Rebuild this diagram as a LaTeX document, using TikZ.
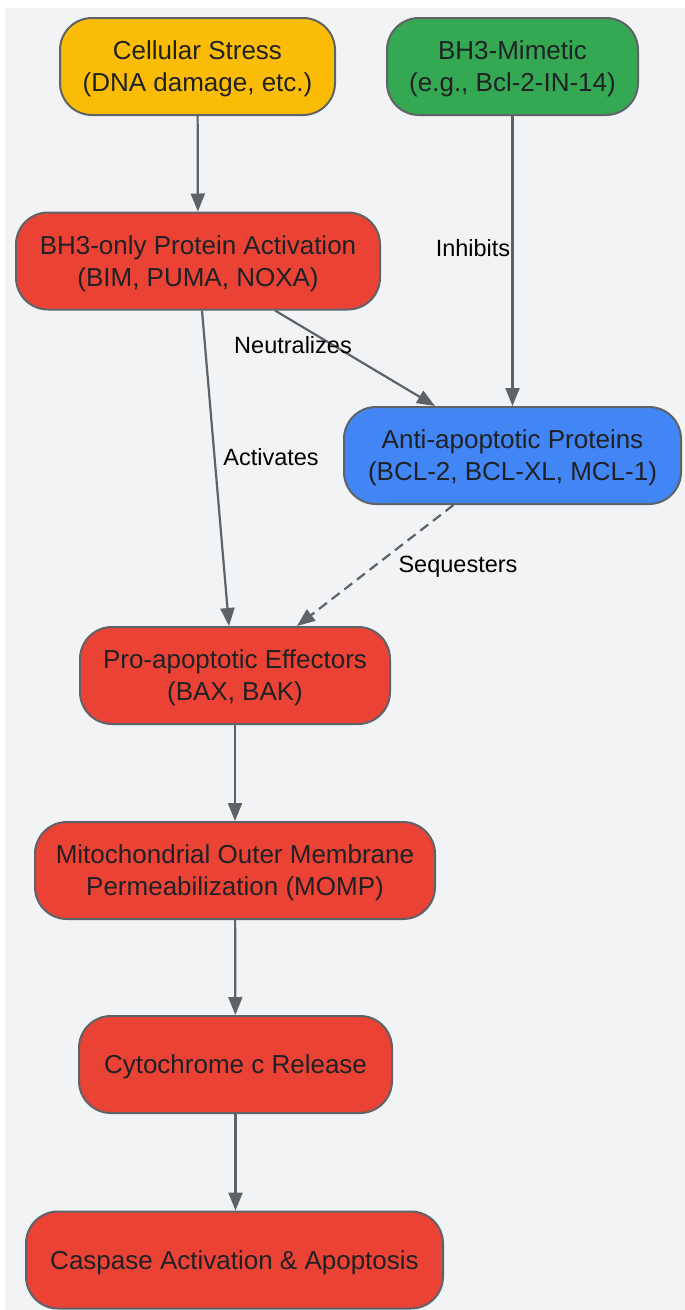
\documentclass[tikz,border=0pt]{standalone}
\usepackage{fontspec}
\setmainfont{Liberation Sans}
\usetikzlibrary{arrows.meta}
\definecolor{panelgray}{HTML}{F1F3F4}
\definecolor{edgegray}{HTML}{5F6368}
\definecolor{stressyellow}{HTML}{FBBC05}
\definecolor{mimeticgreen}{HTML}{34A853}
\definecolor{apored}{HTML}{EA4335}
\definecolor{antiblue}{HTML}{4285F4}
\definecolor{inktext}{HTML}{202124}
\begin{document}
\begin{tikzpicture}[x=1pt,y=-1pt,
        box/.style={draw=edgegray,line width=2pt,rounded corners=32pt,minimum height=97pt,
            align=center,text=inktext,inner sep=0pt,text depth=0pt,font=\fontsize{26}{32}\selectfont},
        link/.style={draw=edgegray,line width=2.2pt,-{Triangle[length=18pt,width=14pt]}},
        lbl/.style={text=black,inner sep=1pt,font=\fontsize{23.5}{28}\selectfont}]
        % region
        \useasboundingbox (0,0) rectangle (685,1310);
        \fill[panelgray] (5,8) rectangle (685,1310);
        % boxes
        \node[box,fill=stressyellow,minimum width=275pt] (stress) at (197.5,66.5) {Cellular Stress\\(DNA damage, etc.)};
        \node[box,fill=mimeticgreen,minimum width=251pt] (mimetic) at (512.5,66.5) {BH3-Mimetic\\(e.g., Bcl-2-IN-14)};
        \node[box,fill=apored,minimum width=364pt] (bhonly) at (198,261) {BH3-only Protein Activation\\(BIM, PUMA, NOXA)};
        \node[box,fill=antiblue,minimum width=337pt] (anti) at (512.5,455.5) {Anti-apoptotic Proteins\\(BCL-2, BCL-XL, MCL-1)};
        \node[box,fill=apored,minimum width=310pt] (effectors) at (235,675.5) {Pro-apoptotic Effectors\\(BAX, BAK)};
        \node[box,fill=apored,minimum width=400pt] (momp) at (235,870.5) {Mitochondrial Outer Membrane\\Permeabilization (MOMP)};
        \node[box,fill=apored,minimum width=313pt] (cytc) at (235.5,1064.5) {Cytochrome c Release};
        \node[box,fill=apored,minimum width=417pt] (caspase) at (234.5,1260) {Caspase Activation \& Apoptosis};
        % arrows
        \draw[link] (stress) -- (bhonly);
        \draw[link] (mimetic) -- (anti);
        \draw[link] ([xshift=77pt]bhonly.south) -- ([xshift=-77.5pt]anti.north);
        \draw[link] ([xshift=4pt]bhonly.south) -- ([xshift=-6pt]effectors.north);
        \draw[link,dashed,dash pattern=on 10pt off 6pt] ([xshift=-59pt]anti.south) -- ([xshift=62pt]effectors.north);
        \draw[link] (effectors) -- (momp);
        \draw[link] (momp) -- (cytc);
        \draw[link] (cytc.south) -- (cytc.south |- caspase.north);
        % text
        \node[lbl] (inhibits) at (473,248) {Inhibits};
        \node[lbl] (neutralizes) at (293,345) {Neutralizes};
        \node[lbl] (activates) at (271,457) {Activates};
        \node[lbl] (sequesters) at (458,567) {Sequesters};
\end{tikzpicture}
\end{document}
